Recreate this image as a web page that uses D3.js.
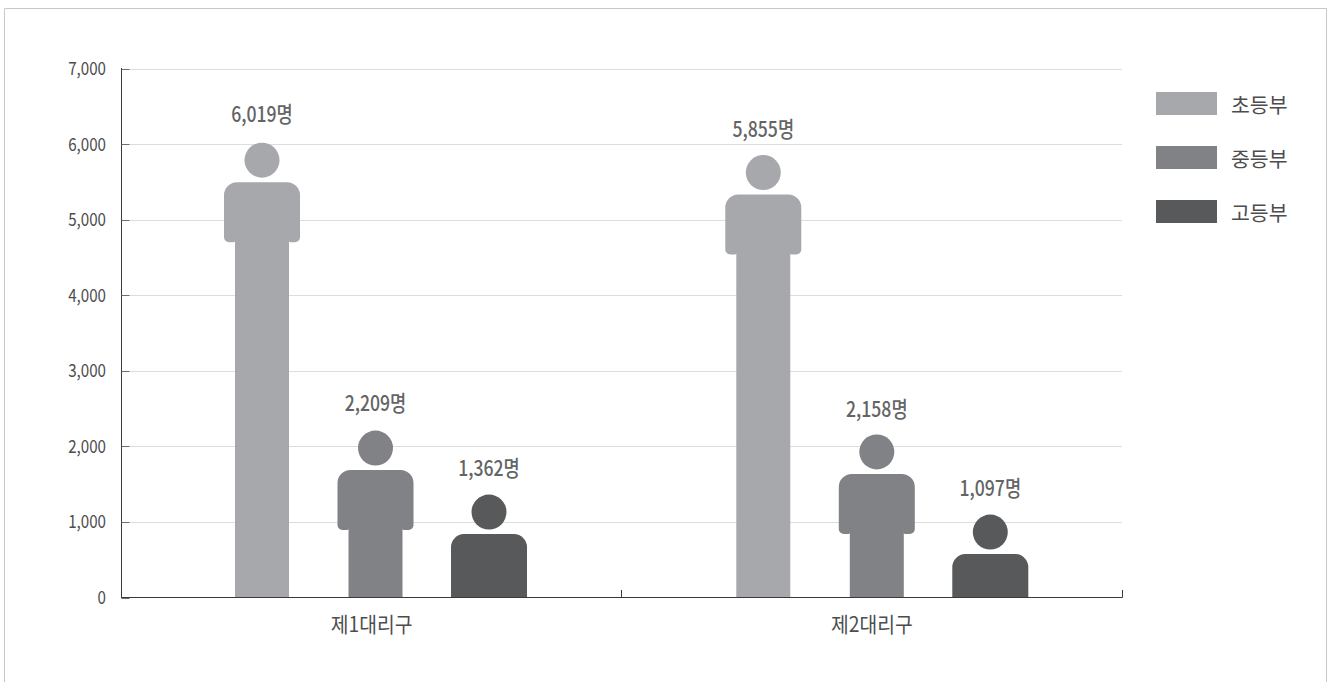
<!DOCTYPE html>
<html><head><meta charset="utf-8">
<style>html,body{margin:0;padding:0;background:#fff}svg{display:block}text{font-family:"Noto Sans CJK KR","Noto Sans",sans-serif}</style>
<script src="https://cdnjs.cloudflare.com/ajax/libs/d3/7.8.5/d3.min.js"></script>
</head><body><svg id="c" width="1328" height="682"></svg>
<script>
const categories=["제1대리구","제2대리구"];
const seriesNames=["초등부","중등부","고등부"];
const elementary=[6019,5855];
const middle=[2209,2158];
const high=[1362,1097];
const seriesValues=[elementary,middle,high];
const yTicks=[0,1000,2000,3000,4000,5000,6000,7000];
const colors=["#a7a8ac","#808285","#58595b"];
const labelNudge=[[0,1,2],[3,4,2]];

const svg=d3.select("#c");
svg.append("path").attr("d","M4.5,682V8.5H1326.5V682").attr("fill","none").attr("stroke","#c8c8c8");

const y=d3.scaleLinear().domain([0,7000]).range([597.5,68.5]);
const xBand=d3.scaleBand().domain(categories).range([121.5,1122]);
const xCenter=d3.scalePoint().domain(categories).range([375.5,876.8]);
const xInner=d3.scalePoint().domain(seriesNames).range([-113.5,113.5]);
const sx=0.82;
const rowY=d=>Math.round(y(d))+.5;

svg.append("g").selectAll("line").data(yTicks.filter(d=>d>0)).join("line")
  .attr("x1",121.5).attr("x2",1122).attr("y1",rowY).attr("y2",rowY)
  .attr("stroke","#dcdddd");

function personPath(cx,top,bottom){
  const headD=35,gap=4.5,bw=38,lw=27,armH=60,rT=13,rA=5;
  const t=top+headD+gap;
  const a=t+armH;
  const shoulders=`V${t+rT}A${rT},${rT} 0 0 1 ${cx-bw+rT},${t}H${cx+bw-rT}A${rT},${rT} 0 0 1 ${cx+bw},${t+rT}`;
  if(a>=bottom-10){
    return `M${cx-bw},${bottom}${shoulders}V${bottom}Z`;
  }
  return `M${cx-lw},${bottom}V${a-1.5}Q${cx-lw},${a} ${cx-lw-1.5},${a}H${cx-bw+rA}A${rA},${rA} 0 0 1 ${cx-bw},${a-rA}${shoulders}`+
    `V${a-rA}A${rA},${rA} 0 0 1 ${cx+bw-rA},${a}H${cx+lw+1.5}Q${cx+lw},${a} ${cx+lw},${a-1.5}V${bottom}Z`;
}

categories.forEach((cat,ci)=>{
  seriesNames.forEach((s,si)=>{
    const v=seriesValues[si][ci];
    const cx=xCenter(cat)+xInner(s);
    const top=y(v);
    const g=svg.append("g").attr("fill",colors[si]);
    g.append("circle").attr("cx",cx).attr("cy",top+17.5).attr("r",17.5);
    g.append("path").attr("d",personPath(cx,top,y(0)));
    svg.append("text").attr("transform",`translate(${cx},${top-21+labelNudge[ci][si]}) scale(${sx},1)`)
      .attr("text-anchor","middle").attr("font-size",21.5).attr("font-weight",500).attr("fill","#636466")
      .text(d3.format(",")(v)+"명");
  });
});

const ax=svg.append("g").attr("stroke","#3a3a3a").attr("fill","none");
ax.append("line").attr("x1",121.5).attr("x2",121.5).attr("y1",68).attr("y2",598);
ax.append("line").attr("x1",121).attr("x2",1122.5).attr("y1",597.5).attr("y2",597.5);
ax.selectAll(".yt").data(yTicks).join("line").attr("class","yt")
  .attr("x1",121.5).attr("x2",129.5).attr("y1",rowY).attr("y2",rowY).attr("stroke","#6d6e71");
const xt=[xBand(categories[0]),xBand(categories[1]),xBand(categories[1])+xBand.bandwidth()];
ax.selectAll(".xt").data(xt).join("line").attr("class","xt")
  .attr("x1",d=>Math.round(d-.5)+.5).attr("x2",d=>Math.round(d-.5)+.5).attr("y1",590).attr("y2",597.5);

svg.append("g").selectAll("text").data(yTicks).join("text")
  .attr("transform",d=>`translate(106,${y(d)+6.5}) scale(${sx},1)`)
  .attr("text-anchor","end").attr("font-size",18.5).attr("fill","#4d4d4f").text(d3.format(","));
svg.append("g").selectAll("text").data(categories).join("text")
  .attr("transform",d=>`translate(${xBand(d)+xBand.bandwidth()/2},${632}) scale(0.92,1)`)
  .attr("text-anchor","middle").attr("font-size",21).attr("fill","#4d4d4f").text(d=>d);

const leg=svg.append("g").selectAll("g").data(seriesNames).join("g")
  .attr("transform",(d,i)=>`translate(1156,${92+i*54})`);
leg.append("rect").attr("width",61).attr("height",23).attr("fill",(d,i)=>colors[i]);
leg.append("text").attr("x",75).attr("y",21).attr("font-size",20.5).attr("fill","#4d4d4f").text(d=>d);
</script></body></html>
